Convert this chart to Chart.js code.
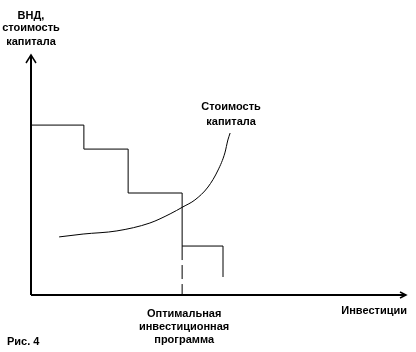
<!DOCTYPE html>
<html>
<head>
<meta charset="utf-8">
<script src="https://cdn.jsdelivr.net/npm/chart.js@4"></script>
<style>
  body { margin: 0; background: #fff; }
  canvas { display: block; }
</style>
</head>
<body>
<canvas id="grafik" width="416" height="352"></canvas>
<script>
// границы проектов по оси инвестиций и их ВНД
const investGranicy = [0, 14.1, 25.9, 40.3, 51.2];
const vnd = [70.8, 60.8, 42.5, 20.4, 7.5];
// кривая стоимости капитала
const stoimostX = [7.5, 13.9, 22.9, 31.7, 37.1, 40.5, 43.7, 47.2, 49.9, 51.7, 52.5, 53.1];
const stoimostY = [24.2, 25.4, 26.7, 30.0, 33.8, 36.7, 39.6, 45.0, 52.1, 59.2, 64.6, 67.5];
// оптимальная программа
const optimum = 40.3;

const font = 'bold 11px "Liberation Sans", Arial, sans-serif';

const risunok = {
    id: 'risunok',
    afterDraw(chart) {
        const c = chart.ctx;
        const a = chart.chartArea;
        const sx = chart.scales.x;
        c.save();
        c.strokeStyle = '#000';
        c.fillStyle = '#000';
        c.lineWidth = 2;
        // оси
        c.beginPath();
        c.moveTo(a.left, a.bottom);
        c.lineTo(a.left, a.top);
        c.moveTo(a.left, a.bottom);
        c.lineTo(a.right, a.bottom);
        c.stroke();
        // стрелки
        c.lineWidth = 1.5;
        c.beginPath();
        c.moveTo(a.left - 5, a.top + 8);
        c.lineTo(a.left, a.top);
        c.lineTo(a.left + 5, a.top + 8);
        c.moveTo(a.right - 6, a.bottom - 3);
        c.lineTo(a.right, a.bottom);
        c.lineTo(a.right - 6, a.bottom + 3);
        c.stroke();
        // подписи
        c.font = font;
        c.textAlign = 'center';
        c.fillText('ВНД,', a.left, 19);
        c.fillText('стоимость', a.left, 31);
        c.fillText('капитала', a.left, 45);
        const kx = sx.getPixelForValue(stoimostX[stoimostX.length - 1]);
        c.fillText('Стоимость', kx + 1, 110);
        c.fillText('капитала', kx + 1, 125);
        const ox = sx.getPixelForValue(optimum);
        c.fillText('Оптимальная', ox + 2, 317);
        c.fillText('инвестиционная', ox + 2, 330);
        c.fillText('программа', ox + 2, 343);
        c.textAlign = 'right';
        c.fillText('Инвестиции', a.right + 1, 314);
        c.textAlign = 'left';
        c.fillText('Рис. 4', 7, 345);
        c.restore();
    }
};

new Chart(document.getElementById('grafik').getContext('2d'), {
    type: 'line',
    data: {
        datasets: [{
            label: 'ВНД',
            data: investGranicy.map((x, i) => ({ x: x, y: vnd[i] })),
            stepped: 'before',
            borderColor: '#000',
            borderWidth: 1,
            pointRadius: 0,
            fill: false
        }, {
            label: 'Оптимум',
            data: [{ x: optimum, y: vnd[3] }, { x: optimum, y: 0 }],
            borderColor: '#000',
            borderWidth: 1,
            borderDash: [14, 5],
            pointRadius: 0,
            fill: false
        }, {
            label: 'Стоимость капитала',
            data: stoimostX.map((x, i) => ({ x: x, y: stoimostY[i] })),
            borderColor: '#000',
            borderWidth: 1,
            cubicInterpolationMode: 'monotone',
            pointRadius: 0,
            fill: false
        }]
    },
    options: {
        responsive: false,
        animation: false,
        devicePixelRatio: 1,
        layout: { padding: { left: 31, right: 10, top: 55, bottom: 57 } },
        plugins: {
            legend: { display: false },
            tooltip: { enabled: false }
        },
        scales: {
            x: { type: 'linear', min: 0, max: 100, display: false },
            y: { type: 'linear', min: 0, max: 100, display: false }
        }
    },
    plugins: [risunok]
});
</script>
</body>
</html>
